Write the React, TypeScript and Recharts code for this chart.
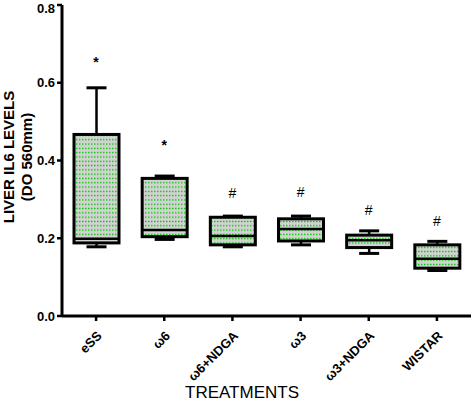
import { Bar, ComposedChart, Scatter, XAxis, YAxis } from 'recharts';

const CATEGORIES = ['eSS', 'ω6', 'ω6+NDGA', 'ω3', 'ω3+NDGA', 'WISTAR'];
const MINS = [0.178, 0.197, 0.178, 0.183, 0.161, 0.117];
const Q1S = [0.188, 0.204, 0.183, 0.193, 0.176, 0.123];
const MEDIANS = [0.199, 0.221, 0.206, 0.224, 0.195, 0.147];
const Q3S = [0.467, 0.354, 0.254, 0.25, 0.208, 0.183];
const MAXS = [0.587, 0.36, 0.257, 0.257, 0.219, 0.192];
const MARKS = ['*', '*', '#', '#', '#', '#'];
const MARK_Y = [0.66, 0.448, 0.316, 0.318, 0.273, 0.245];
const Y_TICKS = [0, 0.2, 0.4, 0.6, 0.8];

const FONT = '"Liberation Sans", Arial, sans-serif';

const data = CATEGORIES.map((name, i) => ({
  name,
  min: MINS[i],
  q1: Q1S[i],
  median: MEDIANS[i],
  q3: Q3S[i],
  max: MAXS[i],
  mark: MARKS[i],
  markY: MARK_Y[i],
}));

function BoxShape(props: any) {
  const { x, y, width, height, payload } = props;
  const { min, max, q1, median, q3 } = payload;
  const top = Math.min(y, y + height);
  const bottom = Math.max(y, y + height);
  // map a value onto the bar's own pixel range (min..max)
  const py = (v: number) => bottom - ((bottom - top) * (v - min)) / (max - min);
  const cx = x + width / 2;
  const cap = 10;
  return (
    <g>
      <line x1={cx} x2={cx} y1={py(max)} y2={py(q3)} stroke="#000" strokeWidth={2.5} />
      <line x1={cx} x2={cx} y1={py(q1)} y2={py(min)} stroke="#000" strokeWidth={2.5} />
      <line x1={cx - cap} x2={cx + cap} y1={py(max)} y2={py(max)} stroke="#000" strokeWidth={3} />
      <line x1={cx - cap} x2={cx + cap} y1={py(min)} y2={py(min)} stroke="#000" strokeWidth={3} />
      <rect
        x={x}
        y={py(q3)}
        width={width}
        height={py(q1) - py(q3)}
        fill="url(#dots)"
        stroke="#000"
        strokeWidth={3}
      />
      <line x1={x} x2={x + width} y1={py(median)} y2={py(median)} stroke="#000" strokeWidth={2.5} />
    </g>
  );
}

function MarkShape(props: any) {
  const { cx, cy, payload } = props;
  const star = payload.mark === '*';
  return (
    <text
      x={cx}
      y={cy}
      dy={star ? '0.55em' : '0.35em'}
      textAnchor="middle"
      fontFamily={FONT}
      fontWeight={star ? 'bold' : 'normal'}
      fontSize={14}
      fill="#000"
    >
      {payload.mark}
    </text>
  );
}

function XTick(props: any) {
  const { x, payload } = props;
  const y = 330;
  return (
    <text
      x={x}
      y={y}
      dy="0.71em"
      transform={`rotate(-45 ${x} ${y})`}
      textAnchor="end"
      fontFamily={FONT}
      fontWeight="bold"
      fontSize={13}
      fill="#000"
    >
      {payload.value}
    </text>
  );
}

function YLabel() {
  const yc = 157;
  return (
    <g fontFamily={FONT} fontWeight="bold" fontSize={15} fill="#000" textAnchor="middle">
      <text x={14} y={yc} transform={`rotate(-90 14 ${yc})`}>
        LIVER IL6 LEVELS
      </text>
      <text x={32} y={yc} transform={`rotate(-90 32 ${yc})`}>
        (DO 560mm)
      </text>
    </g>
  );
}

function XLabel() {
  return (
    <text x={242} y={398} textAnchor="middle" fontFamily={FONT} fontSize={17} fill="#000">
      TREATMENTS
    </text>
  );
}

export default function App() {
  return (
    <div style={{ position: 'absolute', left: 0, top: 0, width: 471, height: 402, background: '#fff' }}>
      <ComposedChart
        width={471}
        height={402}
        data={data}
        margin={{ top: 5, right: 0, bottom: 0, left: 0 }}
      >
        <defs>
          <pattern id="dots" width="3" height="4.3" patternUnits="userSpaceOnUse">
            <rect width="3" height="4.3" fill="#d2d2d2" />
            <rect x="1" y="1.5" width="1.5" height="1.3" fill="#00c800" />
          </pattern>
        </defs>
        <XAxis
          dataKey="name"
          height={86}
          tickSize={5}
          tickLine={{ stroke: '#000', strokeWidth: 2.5 }}
          axisLine={{ stroke: '#000', strokeWidth: 3 }}
          tick={<XTick />}
          interval={0}
          label={<XLabel />}
        />
        <YAxis
          width={62}
          domain={[0, 0.8]}
          ticks={Y_TICKS}
          tickFormatter={(v: number) => v.toFixed(1)}
          tickSize={5}
          tickMargin={2}
          tickLine={{ stroke: '#000', strokeWidth: 2.5 }}
          axisLine={{ stroke: '#000', strokeWidth: 3 }}
          tick={{ fill: '#000', fontFamily: FONT, fontWeight: 'bold', fontSize: 13 }}
          label={<YLabel />}
        />
        <Bar
          dataKey={(d: any) => [d.min, d.max]}
          barSize={45}
          shape={<BoxShape />}
          isAnimationActive={false}
        />
        <Scatter dataKey="markY" shape={<MarkShape />} isAnimationActive={false} />
      </ComposedChart>
    </div>
  );
}
